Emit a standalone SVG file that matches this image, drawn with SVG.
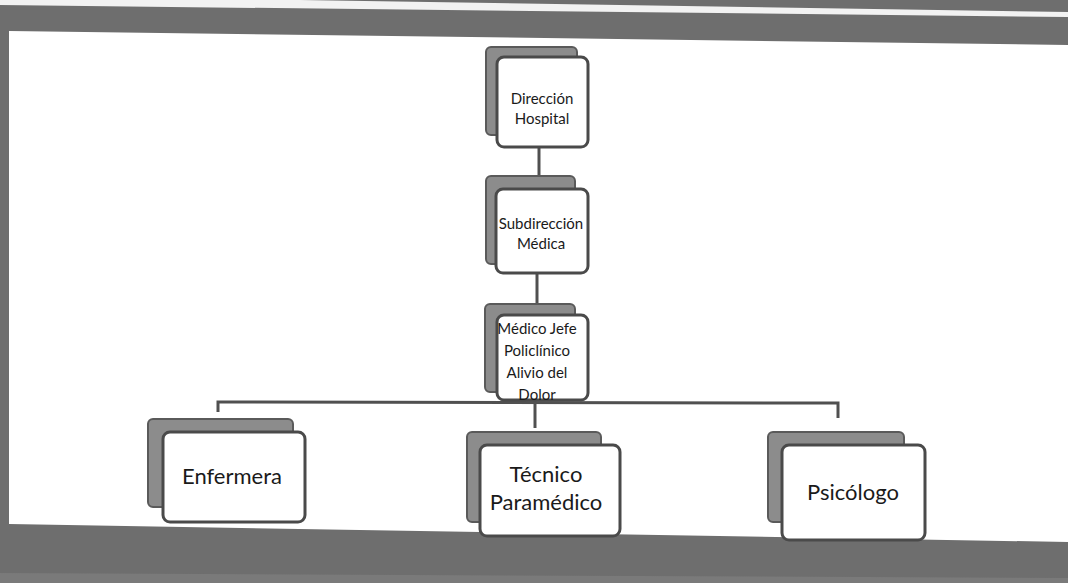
<svg xmlns="http://www.w3.org/2000/svg" width="1068" height="583" viewBox="0 0 1068 583">
<style>
.shadow{fill:#8c8c8c;stroke:#5a5a5a;stroke-width:2}
.box{fill:#ffffff;stroke:#4a4a4a;stroke-width:3}
.t{font-family:Lato,"Liberation Sans",sans-serif;fill:#1a1a1a;text-anchor:middle}
.s{font-size:15px}
.l{font-size:22px}
.c{fill:none;stroke:#505050;stroke-width:3}
</style>
<rect x="0" y="0" width="1068" height="583" fill="#6e6e6e"/>
<polygon points="0,0 300,0 1068,12 1068,17 0,5" fill="#f2f2f2"/>
<polygon points="9,31 1068,45 1068,542 9,524" fill="#ffffff"/>
<polygon points="0,573 1068,578 1068,583 0,583" fill="#7a7a7a"/>
<g id="connectors">
<line class="c" x1="539" y1="147" x2="539" y2="176"/>
<line class="c" x1="537" y1="273" x2="537" y2="304"/>
<line class="c" x1="535" y1="400" x2="535" y2="428"/>
<polyline class="c" points="218,412 218,402 838,403 838,418"/>
</g>
<g id="n1">
<rect class="shadow" x="486" y="47" width="91" height="88" rx="5"/>
<rect class="box" x="497" y="57" width="91" height="90" rx="7"/>
<text class="t s" x="542" y="104">Dirección</text>
<text class="t s" x="542" y="124">Hospital</text>
</g>
<g id="n2">
<rect class="shadow" x="486" y="176" width="89" height="88" rx="5"/>
<rect class="box" x="496" y="189" width="92" height="84" rx="7"/>
<text class="t s" x="541" y="229">Subdirección</text>
<text class="t s" x="541" y="249">Médica</text>
</g>
<g id="n3">
<rect class="shadow" x="485" y="304" width="90" height="88" rx="5"/>
<rect class="box" x="497" y="315" width="91" height="85" rx="7"/>
<text class="t s" x="537" y="334">Médico Jefe</text>
<text class="t s" x="537" y="356">Policlínico</text>
<text class="t s" x="537" y="378">Alivio del</text>
<text class="t s" x="537" y="400">Dolor</text>
</g>
<g id="n4">
<rect class="shadow" x="148" y="419" width="145" height="88" rx="5"/>
<rect class="box" x="163" y="432" width="142" height="90" rx="7"/>
<text class="t l" x="232" y="484">Enfermera</text>
</g>
<g id="n5">
<rect class="shadow" x="467" y="432" width="134" height="90" rx="5"/>
<rect class="box" x="480" y="445" width="140" height="91" rx="7"/>
<text class="t l" x="546" y="482">Técnico</text>
<text class="t l" x="546" y="510">Paramédico</text>
</g>
<g id="n6">
<rect class="shadow" x="768" y="432" width="136" height="90" rx="5"/>
<rect class="box" x="782" y="445" width="143" height="95" rx="7"/>
<text class="t l" x="853" y="500">Psicólogo</text>
</g>
</svg>
